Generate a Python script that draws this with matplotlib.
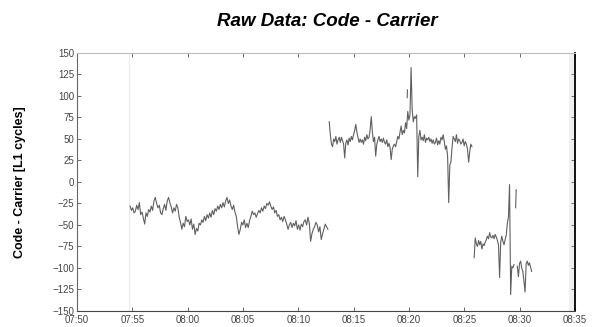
import numpy as np
import matplotlib
matplotlib.use("Agg")
import matplotlib.pyplot as plt

# ---- data (minutes after 07:50) ----
seg1_start, seg1_step = 4.8, 0.12
seg1_vals = [-28, -33, -30, -36, -34, -27, -32, -24, -38, -35,
             -42, -49, -36, -40, -32, -35, -28, -33, -22, -18,
             -25, -30, -27, -36, -38, -31, -26, -33, -22, -18,
             -24, -29, -36, -30, -34, -26, -30, -41, -47, -55,
             -48, -52, -40, -46, -44, -50, -43, -55, -49, -61,
             -54, -57, -48, -50, -44, -47, -40, -45, -38, -42,
             -36, -41, -33, -38, -31, -34, -28, -32, -26, -30,
             -24, -29, -22, -18, -25, -21, -28, -32, -27, -35,
             -40, -52, -61, -55, -47, -50, -44, -53, -48, -53,
             -45, -40, -34, -38, -36, -41, -37, -33, -36, -30,
             -34, -28, -31, -25, -27, -23, -28, -32, -29, -36,
             -33, -40, -38, -44, -41, -46, -40, -44, -49, -55,
             -50, -47, -53, -48, -51, -45, -55, -50, -56, -49,
             -52, -46, -44, -50, -41, -48, -69, -60, -55, -52,
             -47, -50, -58, -52, -67, -60, -55, -49, -52, -55]

seg2_start, seg2_step = 22.8, 0.1
seg2_vals = [70, 55, 44, 41, 50, 47, 53, 44, 49, 52,
             46, 52, 48, 44, 28, 45, 49, 43, 51, 47,
             53, 49, 55, 60, 67, 58, 52, 46, 50, 46,
             49, 44, 52, 48, 55, 50, 52, 61, 76, 58,
             47, 52, 30, 44, 49, 53, 47, 50, 46, 51,
             46, 44, 49, 41, 45, 40, 26, 38, 42, 44,
             41, 47, 53, 50, 58, 65, 55, 60, 57, 69,
             62, 82, 72, 78, 133, 84, 70, 76, 74, 78,
             6, 53, 60, 49, 52, 48, 55, 46, 51, 49,
             52, 47, 50, 45, 49, 44, 46, 51, 43, 48,
             44, 52, 49, 55, 47, 38, 42, 30, -24, 20,
             23, 40, 53, 50, 47, 55, 45, 50, 48, 44,
             46, 50, 42, 47, 44, 38, 23, 35, 44, 41]

seg2b_t = [29.85, 29.87]
seg2b_vals = [98, 107]

seg3_start, seg3_step = 35.9, 0.1
seg3_vals = [-88, -65, -72, -75, -68, -73, -69, -78, -72, -74,
             -70, -67, -63, -66, -59, -64, -65, -62, -66, -61,
             -64, -68, -73, -111, -70, -63, -69, -73, -67, -62,
             -48, -41, -3, -131, -98, -100, -96]

seg3b_t = [39.65, 39.7]
seg3b_vals = [-30, -9]

seg3c_start, seg3c_step = 39.8, 0.1
seg3c_vals = [-98, -110, -95, -92, -100, -104, -115, -128, -95, -92,
              -97, -94, -99, -104]

x_ticks = [0, 5, 10, 15, 20, 25, 30, 35, 40, 45]
x_labels = ["07:50", "07:55", "08:00", "08:05", "08:10",
            "08:15", "08:20", "08:25", "08:30", "08:35"]
y_ticks = list(range(-150, 151, 25))

plt.rcParams['font.family'] = ['Liberation Sans', 'DejaVu Sans']

fig = plt.figure(figsize=(5.92, 3.27), dpi=100)
ax = fig.add_axes([0.130, 0.049, 0.841, 0.789])

line_kw = dict(color='#606060', lw=0.8)
def seg(start, step, vals):
    t = start + step * np.arange(len(vals))
    ax.plot(t, vals, **line_kw)

seg(seg1_start, seg1_step, seg1_vals)
seg(seg2_start, seg2_step, seg2_vals)
ax.plot(seg2b_t, seg2b_vals, **line_kw)
seg(seg3_start, seg3_step, seg3_vals)
ax.plot(seg3b_t, seg3b_vals, **line_kw)
seg(seg3c_start, seg3c_step, seg3c_vals)

ax.axvline(4.7, color='#ebebeb', lw=0.8, zorder=0)
ax.axvspan(44.5, 45, color='#f0f0f0', zorder=0, lw=0)

ax.set_xlim(0, 45)
ax.set_ylim(-150, 150)
ax.set_xticks(x_ticks)
ax.set_xticklabels(x_labels)
ax.set_yticks(y_ticks)

ax.tick_params(direction='in', length=3, width=0.6, labelsize=7,
               labelcolor='#444444', color='#555555',
               top=True, right=True, pad=2)
ax.tick_params(axis='x', pad=3)

ax.spines['top'].set_color('#bbbbbb')
ax.spines['left'].set_color('#666666')
ax.spines['bottom'].set_color('#444444')
ax.spines['right'].set_color('#000000')
ax.spines['right'].set_linewidth(1.3)
for s in ['top', 'left', 'bottom']:
    ax.spines[s].set_linewidth(0.8)

ax.set_ylabel("Code - Carrier [L1 cycles]", fontsize=9, fontweight='bold')
ax.yaxis.set_label_coords(-0.103, 0.5)
fig.text(0.553, 0.935, "Raw Data: Code - Carrier", fontsize=13.5,
         fontweight='bold', fontstyle='italic', ha='center', va='center')

fig.savefig("out.png", dpi=100)
